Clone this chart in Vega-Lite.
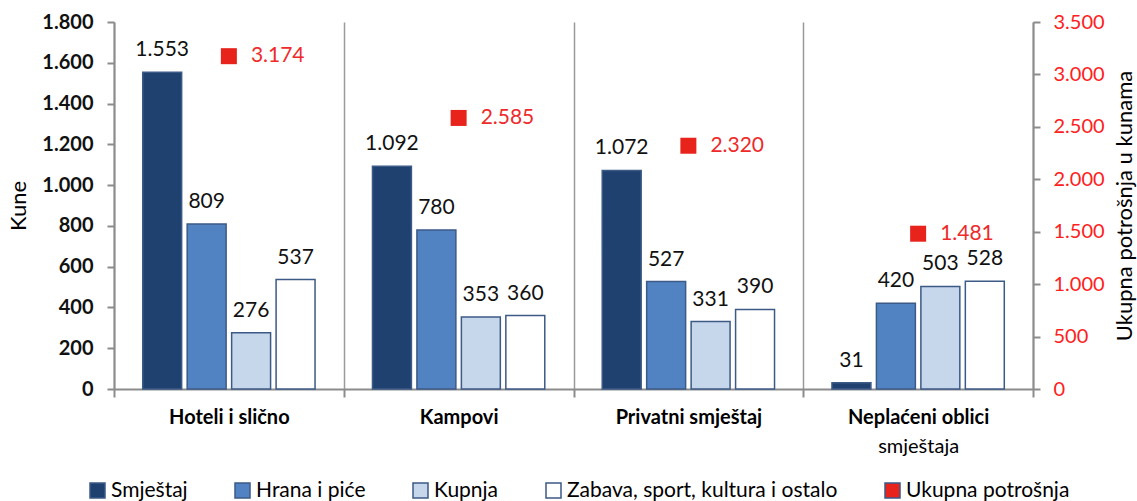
{
  "$schema": "https://vega.github.io/schema/vega-lite/v6.json",
  "width": 919,
  "height": 367,
  "autosize": "none",
  "padding": {"left": 114, "top": 22, "right": 104, "bottom": 112},
  "config": {
    "font": "Lato",
    "view": {"stroke": null},
    "locale": {"number": {"decimal": ",", "thousands": ".", "grouping": [3], "currency": ["", ""]}}
  },
  "datasets": {
    "stavke": [
      {"kategorija": "Hoteli i slično", "stavka": "Smještaj", "vrijednost": 1553},
      {"kategorija": "Hoteli i slično", "stavka": "Hrana i piće", "vrijednost": 809},
      {"kategorija": "Hoteli i slično", "stavka": "Kupnja", "vrijednost": 276},
      {"kategorija": "Hoteli i slično", "stavka": "Zabava, sport, kultura i ostalo", "vrijednost": 537},
      {"kategorija": "Kampovi", "stavka": "Smještaj", "vrijednost": 1092},
      {"kategorija": "Kampovi", "stavka": "Hrana i piće", "vrijednost": 780},
      {"kategorija": "Kampovi", "stavka": "Kupnja", "vrijednost": 353},
      {"kategorija": "Kampovi", "stavka": "Zabava, sport, kultura i ostalo", "vrijednost": 360},
      {"kategorija": "Privatni smještaj", "stavka": "Smještaj", "vrijednost": 1072},
      {"kategorija": "Privatni smještaj", "stavka": "Hrana i piće", "vrijednost": 527},
      {"kategorija": "Privatni smještaj", "stavka": "Kupnja", "vrijednost": 331},
      {"kategorija": "Privatni smještaj", "stavka": "Zabava, sport, kultura i ostalo", "vrijednost": 390},
      {"kategorija": "Neplaćeni oblici smještaja", "stavka": "Smještaj", "vrijednost": 31},
      {"kategorija": "Neplaćeni oblici smještaja", "stavka": "Hrana i piće", "vrijednost": 420},
      {"kategorija": "Neplaćeni oblici smještaja", "stavka": "Kupnja", "vrijednost": 503},
      {"kategorija": "Neplaćeni oblici smještaja", "stavka": "Zabava, sport, kultura i ostalo", "vrijednost": 528}
    ],
    "ukupno": [
      {"kategorija": "Hoteli i slično", "ukupno": 3174},
      {"kategorija": "Kampovi", "ukupno": 2585},
      {"kategorija": "Privatni smještaj", "ukupno": 2320},
      {"kategorija": "Neplaćeni oblici smještaja", "ukupno": 1481}
    ]
  },
  "layer": [
    {
      "data": {"name": "stavke"},
      "encoding": {
        "x": {
          "field": "kategorija", "type": "nominal",
          "sort": ["Hoteli i slično", "Kampovi", "Privatni smještaj", "Neplaćeni oblici smještaja"],
          "scale": {"paddingInner": 0, "paddingOuter": 0},
          "axis": {
            "title": null, "labelAngle": 0, "tickBand": "extent",
            "domainColor": "#8c8c8c", "domainWidth": 2,
            "tickColor": "#8c8c8c", "tickWidth": 2, "tickSize": 8,
            "grid": true, "gridColor": "#9a9a9a", "gridWidth": 1.5,
            "labelFontWeight": "bold", "labelFontSize": 20, "labelColor": "#000000", "labelPadding": 10, "labelLimit": 300,
            "labelExpr": "datum.label == 'Neplaćeni oblici smještaja' ? 'Neplaćeni oblici' : datum.label"
          }
        },
        "xOffset": {
          "field": "stavka", "type": "nominal",
          "sort": ["Smještaj", "Hrana i piće", "Kupnja", "Zabava, sport, kultura i ostalo"],
          "scale": {"paddingInner": 0.124, "paddingOuter": 0.646}
        },
        "y": {
          "field": "vrijednost", "type": "quantitative",
          "scale": {"domain": [0, 1800], "nice": false},
          "axis": {
            "title": "Kune", "titleFontSize": 22, "titleFontWeight": "normal", "titleColor": "#000000", "titlePadding": 11,
            "values": [0, 200, 400, 600, 800, 1000, 1200, 1400, 1600, 1800],
            "format": ",d", "labelFontWeight": "bold", "labelFontSize": 20, "labelColor": "#111111", "labelPadding": 14,
            "domainColor": "#8c8c8c", "domainWidth": 2, "tickColor": "#8c8c8c", "tickWidth": 2, "tickSize": 7,
            "grid": false
          }
        }
      },
      "layer": [
        {
          "mark": {"type": "bar", "stroke": "#3c5a86", "strokeWidth": 1.5},
          "encoding": {
            "color": {
              "field": "stavka", "type": "nominal",
              "scale": {
                "domain": ["Smještaj", "Hrana i piće", "Kupnja", "Zabava, sport, kultura i ostalo", "Ukupna potrošnja"],
                "range": ["#1f4170", "#5183c3", "#c6d7ec", "#ffffff", "#e8231c"]
              },
              "legend": {
                "title": null, "orient": "none", "legendX": -27, "legendY": 458,
                "direction": "horizontal", "columns": 5, "columnPadding": 44, "padding": 0,
                "symbolType": "square", "symbolSize": 225, "symbolOpacity": 1, "symbolStrokeWidth": 1.5,
                "labelFontSize": 21, "labelColor": "#000000", "labelOffset": 3, "labelLimit": 400,
                "encode": {"symbols": {"update": {"stroke": {"signal": "datum.value === 'Ukupna potrošnja' ? '#e8231c' : '#3c5a86'"}}}}
              }
            }
          }
        },
        {
          "mark": {"type": "text", "baseline": "alphabetic", "dy": -16, "fontSize": 21, "color": "#111111"},
          "encoding": {"text": {"field": "vrijednost", "type": "quantitative", "format": ",d"}}
        }
      ]
    },
    {
      "data": {"name": "ukupno"},
      "encoding": {
        "x": {
          "field": "kategorija", "type": "nominal",
          "sort": ["Hoteli i slično", "Kampovi", "Privatni smještaj", "Neplaćeni oblici smještaja"],
          "scale": {"paddingInner": 0, "paddingOuter": 0},
          "axis": {
            "orient": "bottom", "title": null, "labelAngle": 0, "domain": false, "ticks": false, "grid": false,
            "labelFontSize": 20, "labelColor": "#000000", "labelPadding": 47,
            "labelExpr": "datum.label == 'Neplaćeni oblici smještaja' ? 'smještaja' : ''"
          }
        },
        "y": {
          "field": "ukupno", "type": "quantitative",
          "scale": {"domain": [0, 3500], "nice": false},
          "axis": {
            "orient": "right",
            "title": "Ukupna potrošnja u kunama", "titleAngle": 270, "titleBaseline": "top", "titleFontSize": 22, "titleFontWeight": "normal", "titleColor": "#000000", "titlePadding": 10,
            "values": [0, 500, 1000, 1500, 2000, 2500, 3000, 3500],
            "format": ",d", "labelFontSize": 20, "labelColor": "#ff2020", "labelPadding": 13,
            "domainColor": "#8c8c8c", "domainWidth": 2, "tickColor": "#8c8c8c", "tickWidth": 2, "tickSize": 7,
            "grid": false
          }
        }
      },
      "layer": [
        {
          "mark": {"type": "square", "size": 256, "opacity": 1, "filled": true},
          "encoding": {"color": {"datum": "Ukupna potrošnja"}}
        },
        {
          "mark": {"type": "text", "align": "left", "baseline": "middle", "dx": 22, "fontSize": 21, "color": "#ee2a2a"},
          "encoding": {"text": {"field": "ukupno", "type": "quantitative", "format": ",d"}}
        }
      ]
    }
  ],
  "resolve": {"scale": {"x": "independent", "y": "independent"}}
}
